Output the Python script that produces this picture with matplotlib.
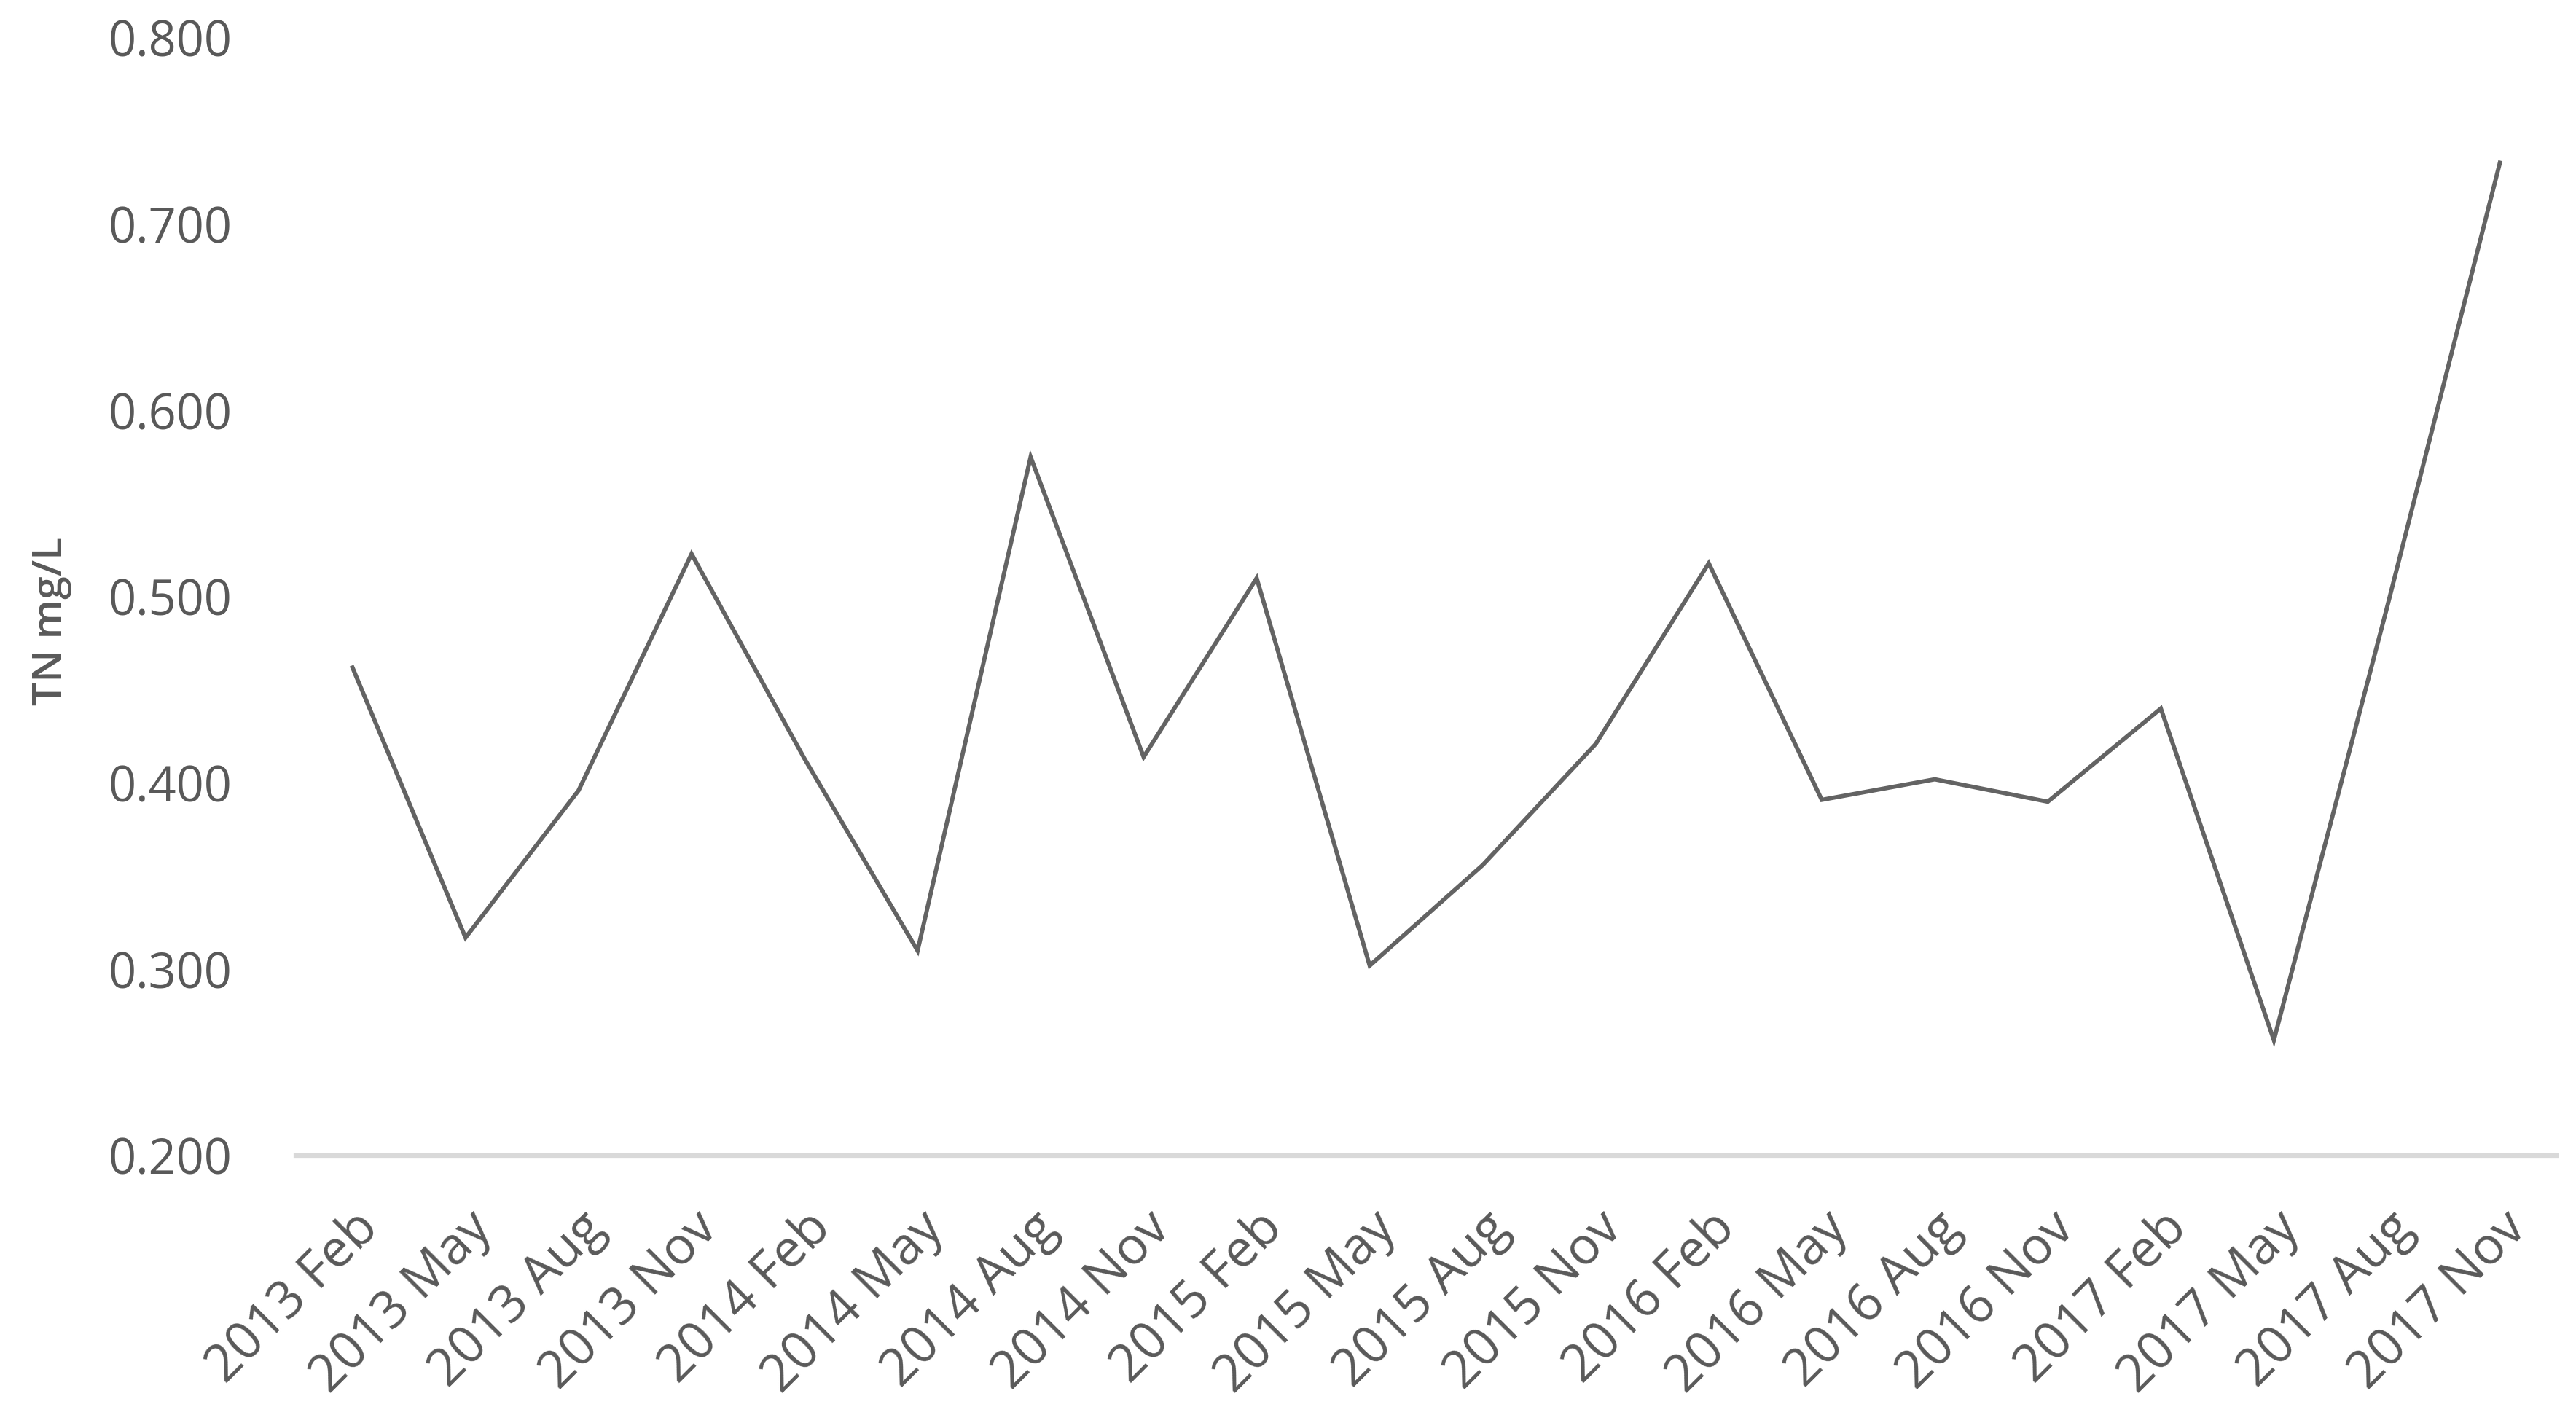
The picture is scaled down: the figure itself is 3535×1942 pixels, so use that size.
import matplotlib.pyplot as plt

# sampling dates and total nitrogen (mg/L)
months = ["2013 Feb", "2013 May", "2013 Aug", "2013 Nov",
          "2014 Feb", "2014 May", "2014 Aug", "2014 Nov",
          "2015 Feb", "2015 May", "2015 Aug", "2015 Nov",
          "2016 Feb", "2016 May", "2016 Aug", "2016 Nov",
          "2017 Feb", "2017 May", "2017 Aug", "2017 Nov"]
tn = [0.462, 0.317, 0.396, 0.523,
      0.413, 0.310, 0.575, 0.414,
      0.510, 0.302, 0.356, 0.421,
      0.518, 0.391, 0.402, 0.390,
      0.440, 0.262, 0.494, 0.733]
yticks = [0.2, 0.3, 0.4, 0.5, 0.6, 0.7, 0.8]

plt.rcParams['font.family'] = ['Open Sans', 'DejaVu Sans']
textColor = "#595959"

fig = plt.figure(figsize=(35.35, 19.42), dpi=100)
ax = fig.add_axes([0.1149, 0.1833, 0.8775, 0.7899])

x = list(range(len(months)))
ax.plot(x, tn, color="#636363", linewidth=4.2, solid_joinstyle="miter")

ax.set_xlim(-0.5, len(months) - 0.5)
ax.set_ylim(0.2, 0.8)
ax.set_yticks(yticks)
ax.set_yticklabels(["%.3f" % v for v in yticks])
ax.set_xticks(x)
ax.set_xticklabels(months, rotation=45, ha="right", va="top", rotation_mode="anchor")

ax.tick_params(axis="both", length=0, labelcolor=textColor)
ax.tick_params(axis="y", labelsize=48, pad=63)
ax.tick_params(axis="x", labelsize=51, pad=46)

for side in ["top", "right", "left"]:
    ax.spines[side].set_visible(False)
ax.spines["bottom"].set_color("#D9D9D9")
ax.spines["bottom"].set_linewidth(4.5)

ax.set_ylabel("TN mg/L", fontsize=41, color=textColor, va="center", fontweight="semibold")
ax.yaxis.set_label_coords(-0.108, 0.478)

fig.savefig("out.png", dpi=100)
